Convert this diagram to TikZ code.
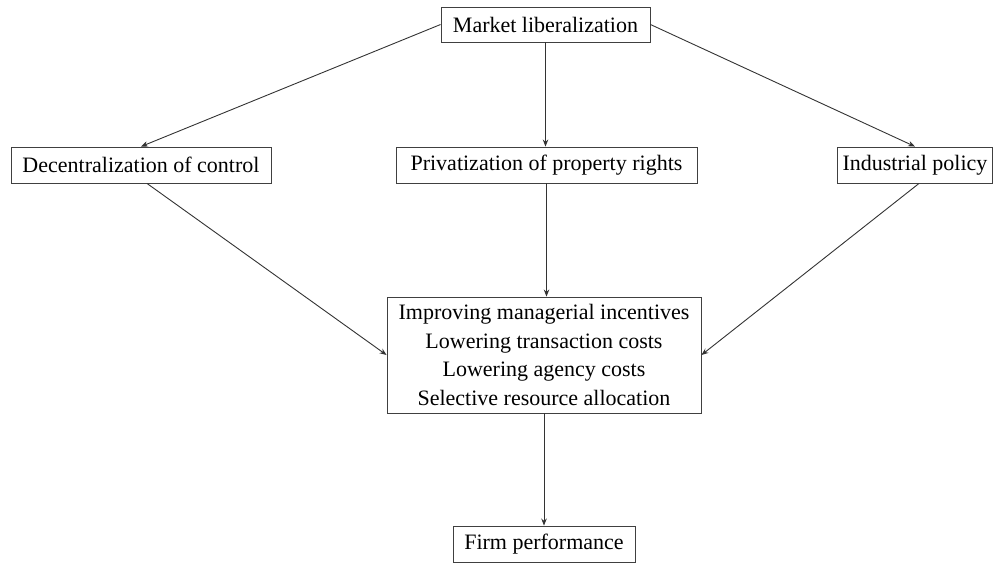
\documentclass[tikz,border=0pt]{standalone}
\usepackage{fontspec}
\setmainfont{Liberation Serif}
\usetikzlibrary{arrows.meta}
\begin{document}
\begin{tikzpicture}[x=1pt,y=-1pt,
  box/.style={draw=black!75,line width=0.9pt,inner sep=0pt,align=center,font=\fontsize{22}{28.5}\selectfont},
  arr/.style={draw=black!80,line width=0.9pt,-{Stealth[length=7pt,width=5.5pt]}}]
\useasboundingbox (0,0) rectangle (994,563);
\node[box,minimum width=209pt,minimum height=35pt] (ml) at (545.5,24.5) {Market liberalization};
\node[box,minimum width=260pt,minimum height=36pt] (dec) at (141,165) {Decentralization of control};
\node[box,minimum width=301pt,minimum height=36pt] (priv) at (546.5,165) {Privatization of property rights};
\node[box,minimum width=155pt,minimum height=36pt] (ind) at (915,165) {Industrial policy};
\node[box,minimum width=314pt,minimum height=116pt] (mid) at (544,355) {Improving managerial incentives\\Lowering transaction costs\\Lowering agency costs\\Selective resource allocation};
\node[box,minimum width=182pt,minimum height=36pt] (firm) at (544,544) {Firm performance};
\draw[arr] (ml.west) -- (dec.north);
\draw[arr] (ml.south) -- (ml.south |- priv.north);
\draw[arr] (ml.east) -- (ind.north);
\draw[arr] ([xshift=6pt]dec.south) -- (mid.west);
\draw[arr] (priv.south) -- (priv.south |- mid.north);
\draw[arr] ([xshift=4pt]ind.south) -- (mid.east);
\draw[arr] (mid.south) -- (firm.north);
\end{tikzpicture}
\end{document}
